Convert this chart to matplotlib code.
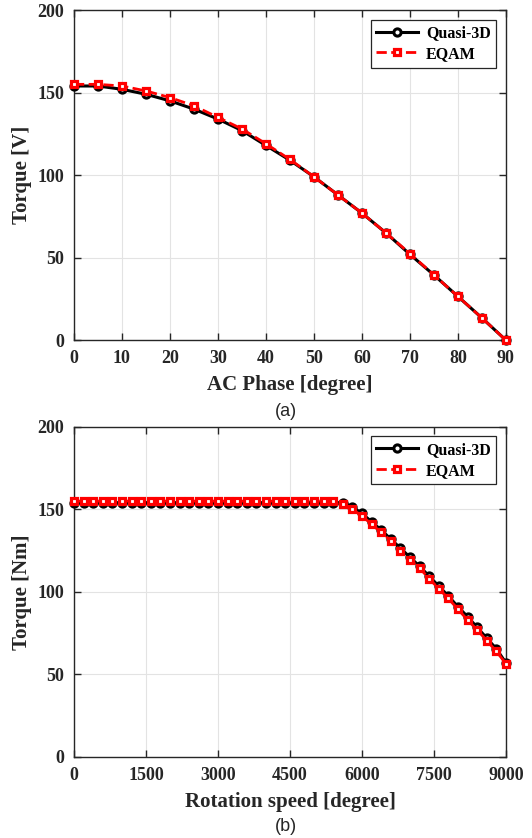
import matplotlib
matplotlib.use("Agg")
import matplotlib.pyplot as plt
import numpy as np

# ---- data ----
phase_deg = [0, 5, 10, 15, 20, 25, 30, 35, 40, 45, 50, 55, 60, 65, 70, 75, 80, 85, 90]
phase_quasi3d = [154, 154, 152, 149, 145, 140, 134, 127, 118, 109, 99, 88, 77, 65, 52, 39.5, 26.5, 13.5, 0]
phase_eqam = [155, 155, 154, 151, 147, 142, 135, 128, 119, 109.5, 99, 88, 77, 65, 52.5, 39.5, 26.5, 13.5, 0]

speed_rpm = list(range(0, 9001, 200))
speed_quasi3d = [154] * 28 + [154, 151.5, 147.5, 142.5, 137.5, 132, 126.5, 121, 115.5, 109.5,
                             103.5, 97.5, 91, 85, 78.5, 72, 65.5, 57]
speed_eqam = [155] * 28 + [153, 150, 146, 141, 136, 131, 125, 119.5, 114.5, 108,
                          102, 96, 89.5, 83, 77, 70.5, 64, 56.5]

phase_ticks = [0, 10, 20, 30, 40, 50, 60, 70, 80, 90]
speed_ticks = [0, 1500, 3000, 4500, 6000, 7500, 9000]
torque_ticks = [0, 50, 100, 150, 200]

SERIF = ["Liberation Serif", "DejaVu Serif"]

fig = plt.figure(figsize=(5.32, 8.38), dpi=100)
ax1 = fig.add_axes([0.139, 0.594, 0.812, 0.394])
ax2 = fig.add_axes([0.139, 0.0967, 0.812, 0.394])


def style(ax, x, q, e, xticks, xlabel, ylabel, xlim):
    ax.plot(x, q, color="black", lw=2.2, marker="o", ms=5.2, mfc="white",
            mec="black", mew=2.2, label="Quasi-3D", zorder=3, clip_on=False)
    ax.plot(x, e, color="red", lw=2.0, ls="--", marker="s", ms=4.8, mfc="white",
            mec="red", mew=2.3, label="EQAM", zorder=4, clip_on=False)
    ax.set_xlim(*xlim)
    ax.set_ylim(0, 200)
    ax.set_xticks(xticks)
    ax.set_yticks(torque_ticks)
    ax.grid(True, color="#e3e3e3", lw=0.8)
    ax.set_axisbelow(True)
    ax.tick_params(direction="in", top=True, right=True, length=5, width=1,
                   labelsize=13, colors="#262626", pad=7)
    for lab in ax.get_xticklabels() + ax.get_yticklabels():
        lab.set_fontfamily(SERIF)
        lab.set_fontweight("bold")
    for sp in ax.spines.values():
        sp.set_color("#262626")
        sp.set_linewidth(1.0)
    ax.set_xlabel(xlabel, fontsize=15, fontweight="bold", family=SERIF,
                  color="#262626", labelpad=6)
    ax.set_ylabel(ylabel, fontsize=15, fontweight="bold", family=SERIF,
                  color="#262626", labelpad=4)
    leg = ax.legend(loc="upper right", prop={"family": SERIF, "weight": "bold", "size": 11.5},
                    fancybox=False, edgecolor="#262626", framealpha=1,
                    handlelength=2.6, borderpad=0.35, labelspacing=0.3,
                    handletextpad=0.5, borderaxespad=0.6)
    leg.get_frame().set_linewidth(0.9)


style(ax1, phase_deg, phase_quasi3d, phase_eqam, phase_ticks,
      "AC Phase [degree]", "Torque [V]", (0, 90))
style(ax2, speed_rpm, speed_quasi3d, speed_eqam, speed_ticks,
      "Rotation speed [degree]", "Torque [Nm]", (0, 9000))

fig.text(0.538, 1 - 411 / 838, "(a)", ha="center", va="center", fontsize=13,
         family=["Liberation Sans", "DejaVu Sans"], color="#262626")
fig.text(0.538, 1 - 826 / 838, "(b)", ha="center", va="center", fontsize=13,
         family=["Liberation Sans", "DejaVu Sans"], color="#262626")

fig.savefig("out.png", dpi=100)
